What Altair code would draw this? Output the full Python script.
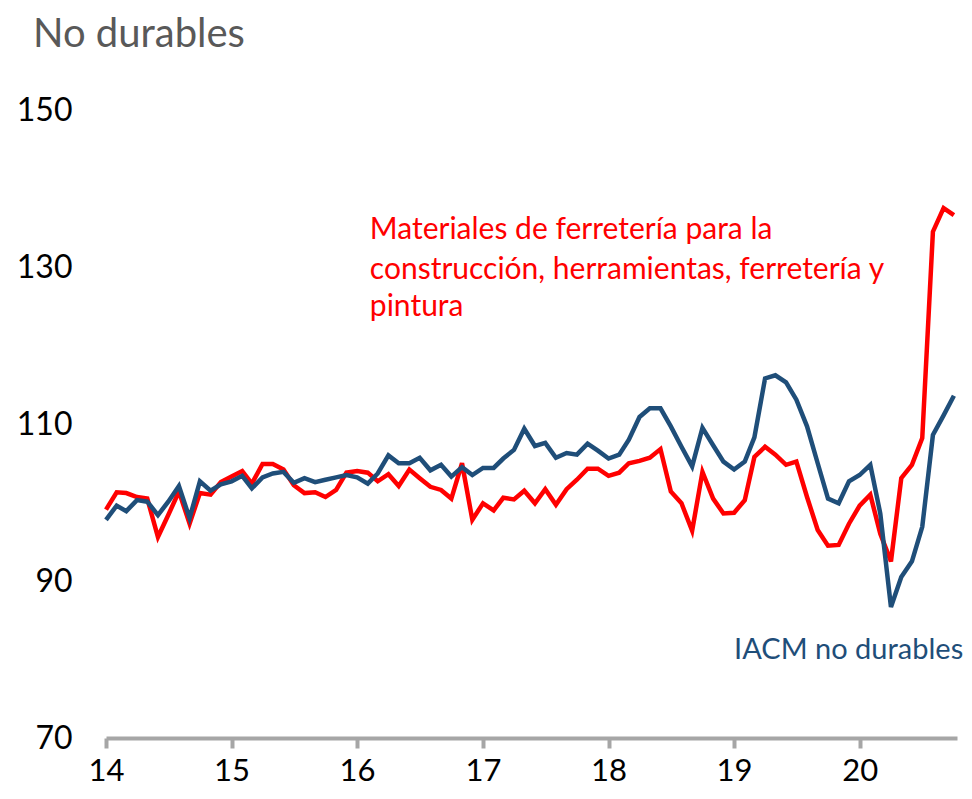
import altair as alt
import pandas as pd

# Monthly series, Jan 2014 - Oct 2020
start_month = "2014-01-01"
n_months = 82

ferreteria = [
    99.1, 101.3, 101.2, 100.7, 100.5, 95.6, 98.4, 101.4, 97.3, 101.2, 101.0, 102.6,
    103.3, 104.0, 102.4, 104.9, 104.9, 104.2, 102.2, 101.2, 101.3, 100.7, 101.6, 103.8,
    104.0, 103.8, 102.7, 103.6, 102.1, 104.2, 103.1, 102.0, 101.6, 100.5, 105.0, 97.8,
    99.9, 99.0, 100.6, 100.4, 101.5, 99.9, 101.7, 99.7, 101.7, 102.9, 104.3, 104.3,
    103.4, 103.8, 105.0, 105.3, 105.7, 106.8, 101.4, 99.9, 96.4, 103.9, 100.5, 98.6,
    98.7, 100.3, 105.8, 107.1, 106.1, 104.8, 105.2, 100.7, 96.5, 94.5, 94.6, 97.3,
    99.6, 101.0, 96.0, 92.5, 103.1, 104.8, 108.2, 134.5, 137.5, 136.6,
]

iacm = [
    97.8, 99.6, 98.9, 100.3, 100.1, 98.4, 100.1, 102.1, 98.0, 102.7, 101.5, 102.3,
    102.7, 103.4, 101.8, 103.2, 103.7, 103.9, 102.5, 103.1, 102.6, 102.9, 103.2, 103.5,
    103.2, 102.4, 103.7, 106.0, 105.0, 105.0, 105.7, 104.1, 104.8, 103.3, 104.5, 103.5,
    104.4, 104.4, 105.6, 106.7, 109.4, 107.2, 107.6, 105.7, 106.3, 106.1, 107.5, 106.6,
    105.6, 106.1, 108.0, 110.9, 112.0, 112.0, 109.7, 107.1, 104.6, 109.5, 107.3, 105.2,
    104.2, 105.2, 108.3, 115.8, 116.2, 115.3, 113.1, 109.7, 105.0, 100.5, 99.9, 102.7,
    103.5, 104.8, 98.6, 86.7, 90.5, 92.5, 96.9, 108.6, 111.1, 113.6,
]

y_ticks = [70, 90, 110, 130, 150]
x_tick_years = [2014, 2015, 2016, 2017, 2018, 2019, 2020]

red_note_lines = [
    "Materiales de ferretería para la",
    "construcción, herramientas, ferretería y",
    "pintura",
]
red_note_values = [134.7, 129.6, 124.9]
red_note_date = "2016-02-07T00:00:00"

blue_note_text = ["IACM no durables"]
blue_note_values = [81.2]
blue_note_date = "2019-01-01T00:00:00"

RED = "#FF0000"
BLUE = "#1F4E79"
FONT = "Lato"

dates = pd.date_range(start_month, periods=n_months, freq="MS")
df = pd.DataFrame({"fecha": dates, "ferreteria": ferreteria, "iacm": iacm})

red_df = pd.DataFrame({
    "fecha": [red_note_date] * len(red_note_lines),
    "v": red_note_values,
    "t": red_note_lines,
})
blue_df = pd.DataFrame({
    "fecha": [blue_note_date] * len(blue_note_text),
    "v": blue_note_values,
    "t": blue_note_text,
})

x_scale = alt.Scale(domain=[alt.DateTime(year=2014, month=1, date=1),
                            alt.DateTime(year=2020, month=10, date=10)])
y_scale = alt.Scale(domain=[70, 150], nice=False, zero=False)

x_axis = alt.Axis(
    title=None, format="%y", grid=False,
    values=[alt.DateTime(year=y, month=1, date=1) for y in x_tick_years],
    domainColor="#A6A6A6", domainWidth=4, tickColor="#A6A6A6", tickWidth=4,
    tickSize=10, labelPadding=8, labelFontSize=31, labelColor="#000000",
    labelFont=FONT, labelFlush=False,
)
y_axis = alt.Axis(
    title=None, values=y_ticks, grid=False, domain=False, ticks=False,
    labelPadding=34, labelFontSize=32, labelColor="#000000", labelFont=FONT,
)

base = alt.Chart(df)
red_line = base.mark_line(color=RED, strokeWidth=4.5).encode(
    x=alt.X("fecha:T", scale=x_scale, axis=x_axis),
    y=alt.Y("ferreteria:Q", scale=y_scale, axis=y_axis),
)
blue_line = base.mark_line(color=BLUE, strokeWidth=4.5).encode(
    x=alt.X("fecha:T", scale=x_scale),
    y=alt.Y("iacm:Q", scale=y_scale),
)

red_text = alt.Chart(red_df).mark_text(
    align="left", baseline="middle", color=RED, fontSize=30, font=FONT
).encode(x="fecha:T", y="v:Q", text="t:N")

blue_text = alt.Chart(blue_df).mark_text(
    align="left", baseline="middle", color=BLUE, fontSize=29, font=FONT
).encode(x="fecha:T", y="v:Q", text="t:N")

chart = alt.layer(red_line, blue_line, red_text, blue_text).properties(
    width=851, height=628,
    title=alt.Title("No durables", anchor="start", frame="group", dx=-73,
                    offset=39, fontSize=40, font=FONT, fontWeight="normal",
                    color="#595959"),
    autosize=alt.AutoSizeParams(type="none"),
    padding={"left": 98, "top": 102, "right": 7, "bottom": 52},
).configure_view(stroke=None)

chart.save("out.html", embed_options={"renderer": "svg", "actions": False})
